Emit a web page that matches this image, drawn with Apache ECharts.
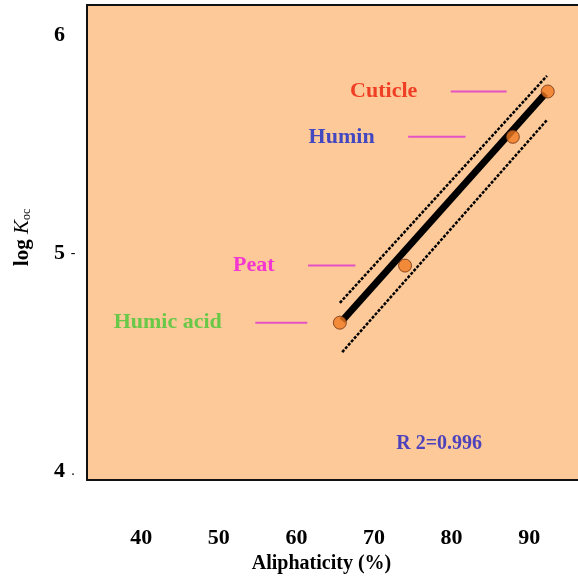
<!DOCTYPE html>
<html>
<head>
<meta charset="utf-8">
<script src="https://cdn.jsdelivr.net/npm/echarts@6/dist/echarts.min.js"></script>
<style>
  html, body { margin: 0; padding: 0; background: #fff; }
  #chart { width: 578px; height: 579px; }
</style>
</head>
<body>
<div id="chart"></div>
<script>
// values
const xTicks = [40, 50, 60, 70, 80, 90];
const yTicks = [4, 5, 6];
const samples = ['Humic acid', 'Peat', 'Humin', 'Cuticle'];
const aliphaticity = [65.6, 74.0, 87.9, 92.4];
const logKoc = [4.682, 4.944, 5.535, 5.743];
const fitLine = [[65.9, 4.691], [92.1, 5.734]];
const upperBand = [[65.6, 4.773], [92.3, 5.815]];
const lowerBand = [[65.9, 4.547], [92.3, 5.612]];
const pointerStart = [54.7, 61.5, 74.4, 79.9];
const pointerEnd = [61.4, 67.6, 81.8, 87.1];
const r2Text = 'R 2=0.996';
const r2Pos = [78.4, 4.125];

const nameColors = ['#44c834', '#f010e0', '#1428cc', '#ec1c08'];
const serif = 'Liberation Serif';

let chart = echarts.init(document.getElementById('chart'));

let pointerSeries = samples.map(function (s, i) {
    return {
        type: 'line',
        silent: true,
        showSymbol: false,
        lineStyle: { color: '#e452c6', width: 2 },
        data: [[pointerStart[i], logKoc[i]], [pointerEnd[i], logKoc[i]]],
        z: 3
    };
});

let option = {
    animation: false,
    textStyle: { fontFamily: serif },
    grid: {
        left: 87, top: 5, right: 0, bottom: 90,
        show: true,
        backgroundColor: '#fdc998',
        borderWidth: 0
    },
    xAxis: [{
        type: 'value',
        min: 33, max: 96.3,
        name: 'Aliphaticity (%)',
        nameLocation: 'middle',
        nameGap: 74,
        nameTextStyle: {
            fontFamily: serif, fontWeight: 'bold', fontSize: 20, color: '#000',
            padding: [0, 22, 0, 0]
        },
        axisLine: { show: true, onZero: false, lineStyle: { color: '#111', width: 2 } },
        axisTick: { show: false },
        splitLine: { show: false },
        axisLabel: {
            customValues: xTicks,
            margin: 47,
            fontFamily: serif, fontWeight: 'bold', fontSize: 22, color: '#000'
        }
    }, {
        type: 'value',
        position: 'top',
        min: 33, max: 96.3,
        axisLine: { show: true, onZero: false, lineStyle: { color: '#111', width: 2 } },
        axisTick: { show: false },
        axisLabel: { show: false },
        splitLine: { show: false }
    }],
    yAxis: {
        type: 'value',
        min: 3.96, max: 6.14,
        name: '{b|log }{i|K}{s|oc}',
        nameLocation: 'middle',
        nameRotate: 90,
        nameGap: 54,
        nameTextStyle: {
            padding: [0, 0, 0, 10],
            rich: {
                b: { fontFamily: serif, fontWeight: 'bold', fontSize: 21, color: '#000' },
                i: { fontFamily: serif, fontStyle: 'italic', fontSize: 21, color: '#000' },
                s: { fontFamily: serif, fontSize: 12, color: '#000', verticalAlign: 'bottom', padding: [8, 0, 0, 0] }
            }
        },
        axisLine: { show: true, onZero: false, lineStyle: { color: '#111', width: 2 } },
        axisTick: { show: false },
        splitLine: { show: false },
        axisLabel: {
            customValues: yTicks,
            margin: 6,
            formatter: function (v) {
                let mark = v === 5 ? '-' : (v === 4 ? '.' : '');
                return '{n|' + v + '}{d|' + mark + '}';
            },
            rich: {
                n: { fontFamily: serif, fontWeight: 'bold', fontSize: 22, color: '#000' },
                d: { fontFamily: serif, fontSize: 14, color: '#000', width: 16, align: 'center' }
            }
        }
    },
    series: [
        {
            type: 'line',
            silent: true,
            showSymbol: false,
            lineStyle: { color: '#000', width: 2.5, type: [3, 1.5] },
            data: upperBand,
            z: 2
        },
        {
            type: 'line',
            silent: true,
            showSymbol: false,
            lineStyle: { color: '#000', width: 2.5, type: [3, 1.5] },
            data: lowerBand,
            z: 2
        },
        {
            type: 'line',
            silent: true,
            showSymbol: false,
            lineStyle: { color: '#000', width: 7 },
            data: fitLine,
            z: 3
        }
    ].concat(pointerSeries).concat([
        {
            type: 'scatter',
            silent: true,
            symbol: 'circle',
            symbolSize: 13,
            itemStyle: { color: '#f07a22', borderColor: '#6a3010', borderWidth: 1 },
            data: aliphaticity.map(function (x, i) { return [x, logKoc[i]]; }),
            z: 5
        },
        {
            type: 'scatter',
            silent: true,
            symbolSize: 1,
            itemStyle: { color: 'rgba(0,0,0,0)' },
            data: samples.map(function (s, i) {
                return {
                    value: [pointerStart[i], logKoc[i]],
                    name: s,
                    label: { color: nameColors[i] }
                };
            }),
            label: {
                show: true,
                position: 'left',
                distance: 33,
                formatter: '{b}',
                fontFamily: serif, fontWeight: 'bold', fontSize: 22
            },
            z: 6
        },
        {
            type: 'scatter',
            silent: true,
            symbolSize: 1,
            itemStyle: { color: 'rgba(0,0,0,0)' },
            data: [r2Pos],
            label: {
                show: true,
                position: 'inside',
                formatter: r2Text,
                color: '#2020c4',
                fontFamily: serif, fontWeight: 'bold', fontSize: 20
            },
            z: 6
        }
    ])
};

chart.setOption(option);
</script>
</body>
</html>
